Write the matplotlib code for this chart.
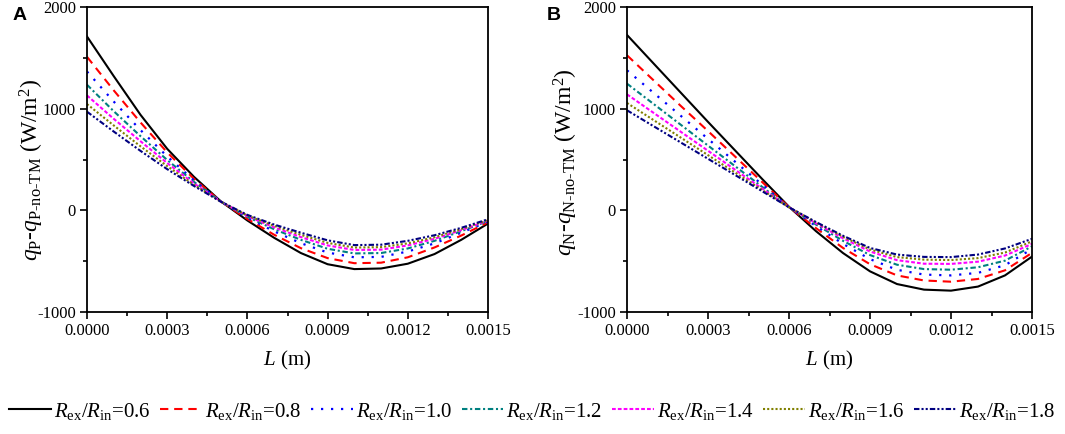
import matplotlib
matplotlib.use("Agg")
import matplotlib.pyplot as plt
from matplotlib.ticker import MultipleLocator, FuncFormatter
from matplotlib.lines import Line2D

# ---------------- data ----------------
L = [0.0000, 0.0001, 0.0002, 0.0003, 0.0004, 0.0005, 0.0006, 0.0007,
     0.0008, 0.0009, 0.0010, 0.0011, 0.0012, 0.0013, 0.0014, 0.0015]
ratios = ["0.6", "0.8", "1.0", "1.2", "1.4", "1.6", "1.8"]

# Panel A: q_P - q_P-no-TM (W/m^2)
qP_06 = [1710, 1320, 940, 605, 330, 90, -100, -270, -420, -530, -578, -572, -525, -430, -290, -130]
qP_08 = [1510, 1180, 865, 570, 310, 88, -85, -240, -372, -470, -520, -515, -462, -365, -248, -118]
qP_10 = [1365, 1070, 790, 530, 295, 88, -72, -207, -323, -415, -462, -458, -405, -325, -220, -110]
qP_12 = [1235, 975, 730, 495, 280, 87, -65, -186, -290, -378, -424, -420, -375, -300, -205, -105]
qP_14 = [1130, 900, 680, 465, 265, 87, -57, -168, -263, -345, -390, -387, -345, -280, -195, -100]
qP_16 = [1045, 835, 630, 435, 250, 86, -51, -153, -241, -320, -366, -362, -325, -265, -185, -95]
qP_18 = [970, 775, 585, 405, 240, 86, -45, -140, -220, -295, -342, -338, -300, -245, -172, -88]

# Panel B: q_N - q_N-no-TM (W/m^2)
qN_06 = [1725, 1440, 1155, 870, 590, 310, 35, -205, -420, -600, -725, -780, -790, -750, -640, -455]
qN_08 = [1525, 1275, 1025, 780, 530, 280, 32, -175, -370, -530, -640, -690, -702, -675, -590, -418]
qN_10 = [1377, 1152, 928, 703, 479, 254, 30, -155, -330, -480, -585, -632, -640, -615, -540, -380]
qN_12 = [1246, 1043, 840, 637, 435, 232, 30, -140, -300, -440, -535, -578, -584, -560, -495, -354]
qN_14 = [1141, 956, 771, 586, 400, 215, 30, -128, -275, -405, -490, -525, -527, -505, -445, -330]
qN_16 = [1056, 885, 714, 543, 372, 201, 30, -120, -260, -385, -460, -485, -489, -470, -415, -305]
qN_18 = [984, 825, 666, 507, 348, 189, 30, -115, -250, -370, -435, -458, -460, -435, -375, -280]

panelA = [qP_06, qP_08, qP_10, qP_12, qP_14, qP_16, qP_18]
panelB = [qN_06, qN_08, qN_10, qN_12, qN_14, qN_16, qN_18]

# ---------------- style ----------------
colors = ["#000000", "#FF0000", "#0000FF", "#008080", "#FF00FF", "#808000", "#000080"]
dashes = [None, (4.0, 2.8), (1.0, 3.5), (2.6, 1.3, 1.0, 1.3), (1.8, 1.0), (1.0, 1.0),
          (2.6, 1.0, 1.0, 1.0, 1.0, 1.0)]
lws = [1.5, 1.5, 1.6, 1.5, 1.5, 1.5, 1.5]

plt.rcParams["font.family"] = ["Liberation Serif", "DejaVu Serif"]
plt.rcParams["mathtext.fontset"] = "custom"
plt.rcParams["mathtext.rm"] = "Liberation Serif"
plt.rcParams["mathtext.it"] = "Liberation Serif:italic"
plt.rcParams["mathtext.bf"] = "Liberation Serif:bold"

W, H = 1065, 434
fig = plt.figure(figsize=(W / 100, H / 100), dpi=100)

def px_axes(left, right, top, bottom):
    return fig.add_axes([left / W, 1 - bottom / H, (right - left) / W, (bottom - top) / H])

axA = px_axes(87, 488, 7, 312)
axB = px_axes(627, 1032, 7, 312)

hy = "\u2010"

def setup(ax):
    ax.set_xlim(0, 0.0015)
    ax.set_ylim(-1000, 2000)
    ax.xaxis.set_major_locator(MultipleLocator(0.0003))
    ax.xaxis.set_minor_locator(MultipleLocator(0.00015))
    ax.yaxis.set_major_locator(MultipleLocator(1000))
    ax.yaxis.set_minor_locator(MultipleLocator(500))
    ax.xaxis.set_major_formatter(FuncFormatter(lambda v, p: f"{v:.4f}"))
    ax.yaxis.set_major_formatter(FuncFormatter(lambda v, p: f"{v:.0f}".replace("\u2212", "-")))
    ax.tick_params(which="both", direction="out", top=False, right=False, width=1.2,
                   labelsize=12, pad=3)
    ax.tick_params(which="major", length=5)
    ax.tick_params(which="minor", length=3)
    for s in ax.spines.values():
        s.set_linewidth(1.3)

for ax, data in ((axA, panelA), (axB, panelB)):
    setup(ax)
    for vals, c, d, lw in zip(data, colors, dashes, lws):
        line, = ax.plot(L, vals, color=c, lw=lw)
        if d is not None:
            line.set_dashes(d)
    ax.set_xlabel(r"$L$ (m)", fontsize=15, labelpad=7)

fig.text(32 / W, 1 - 170 / H,
         r"$q_{\mathrm{P}}$" + hy + r"$q_{\mathrm{P" + hy + "no" + hy + r"TM}}$ (W/m$^{2}$)",
         rotation=90, ha="center", va="center", fontsize=17)
fig.text(566 / W, 1 - 162 / H,
         r"$q_{\mathrm{N}}$" + hy + r"$q_{\mathrm{N" + hy + "no" + hy + r"TM}}$ (W/m$^{2}$)",
         rotation=90, ha="center", va="center", fontsize=17)

fig.text(13 / W, 1 - 15 / H, "A", fontsize=14, fontweight="bold",
         family="Liberation Sans", ha="left", va="center")
fig.text(547 / W, 1 - 16 / H, "B", fontsize=14, fontweight="bold",
         family="Liberation Sans", ha="left", va="center")

handles = []
labels = []
for r, c, d, lw in zip(ratios, colors, dashes, lws):
    h = Line2D([], [], color=c, lw=lw)
    if d is not None:
        h.set_dashes(d)
    handles.append(h)
    labels.append(r"$R_{\mathrm{ex}}/R_{\mathrm{in}}$=" + r)

fig.legend(handles, labels, loc="center", bbox_to_anchor=(0.5, 1 - 411 / H), ncol=7,
           frameon=False, fontsize=15, handlelength=2.0, handletextpad=0.15,
           columnspacing=0.45, borderaxespad=0, borderpad=0)

fig.savefig("out.png", dpi=100)
